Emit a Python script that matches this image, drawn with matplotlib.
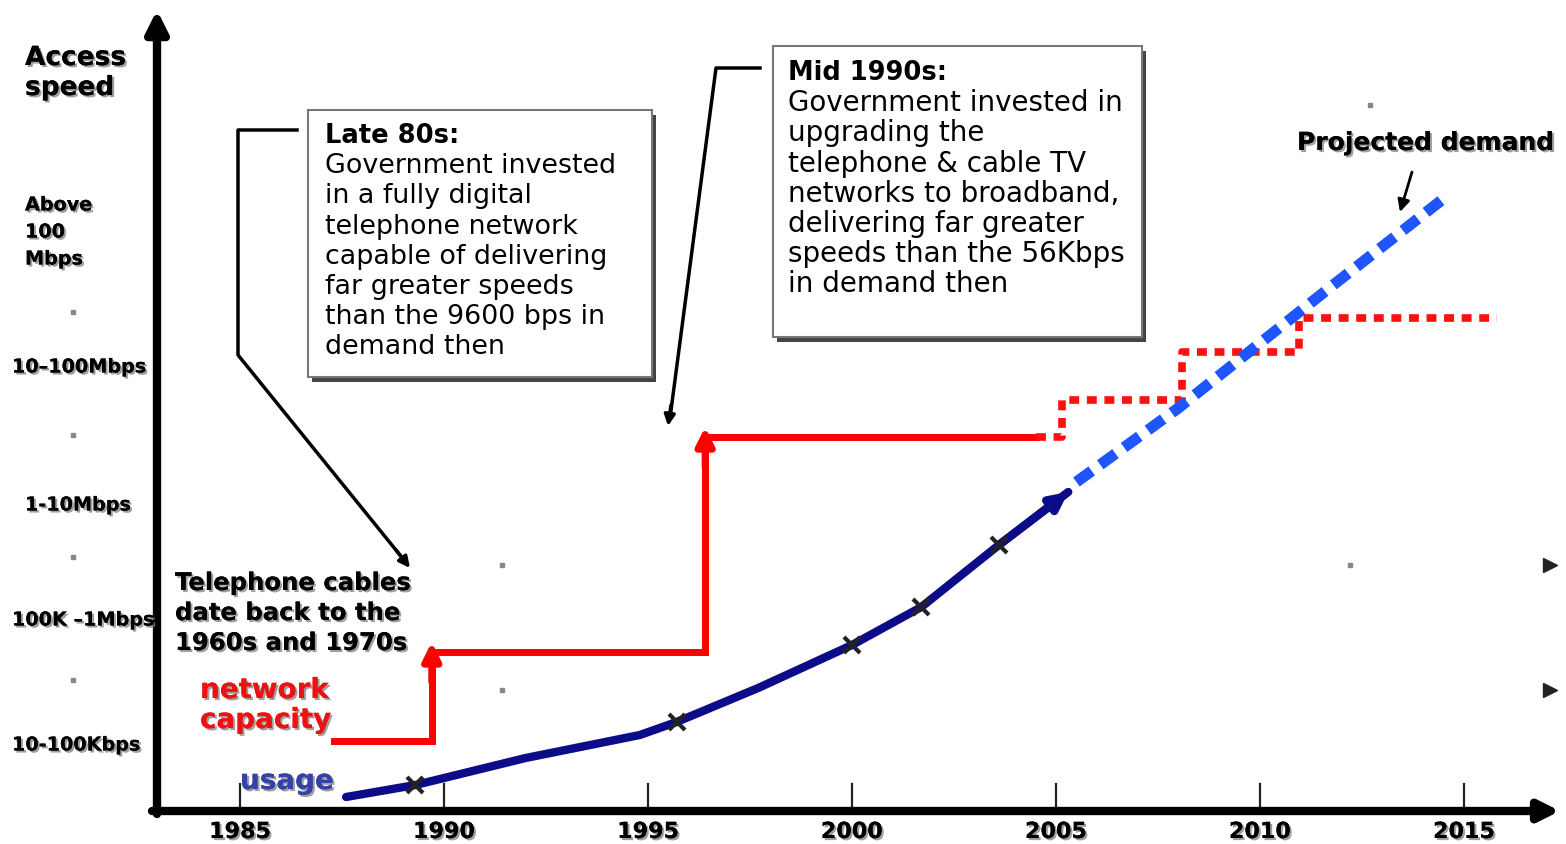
# -*- coding: utf-8 -*-

import matplotlib
matplotlib.use("Agg")
import matplotlib.pyplot as plt
import matplotlib.patheffects as pe
from matplotlib.patches import Rectangle

# --- chart data (years on x, "access speed level" on y, 0 = axis) ---
tick_years = [1985, 1990, 1995, 2000, 2005, 2010, 2015]

level_values = [576, 441, 303, 188, 63]
level_labels = ["Above\n100\nMbps", "10\u2013100Mbps", "1-10Mbps", "100K \u20131Mbps", "10-100Kbps"]

usage_year = [1987.6, 1989.3, 1992.0, 1994.8, 1995.7, 1997.7, 2000.0, 2001.7, 2003.6, 2005.3]
usage_level = [11, 23, 50, 73, 86, 120, 163, 201, 263, 316]
usage_marks = [1, 4, 6, 7, 8]  # points marked with a small x

projected_year = [2005.5, 2008.0, 2011.7, 2014.55]
projected_level = [326, 400, 520, 611]

capacity_year = [1987.3, 1989.7, 1989.7, 1996.4, 1996.4, 2004.5]
capacity_level = [67, 67, 156, 156, 371, 371]

planned_year = [2004.5, 2005.15, 2005.15, 2008.1, 2008.1, 2010.95, 2010.95, 2015.8]
planned_level = [371, 371, 408, 408, 456, 456, 490, 490]

box1_title = "Late 80s:"
box1_lines = ["Government invested", "in a fully digital", "telephone network",
              "capable of delivering", "far greater speeds", "than the 9600 bps in",
              "demand then"]
box2_title = "Mid 1990s:"
box2_lines = ["Government invested in", "upgrading the", "telephone & cable TV",
              "networks to broadband,", "delivering far greater",
              "speeds than the 56Kbps", "in demand then"]

W, H = 1566, 844
PX_PER_YEAR = 40.8


def P(px, py):
    """pixel position of the picture -> data coords"""
    return 1985 + (px - 240) / PX_PER_YEAR, 808 - py


shadow = [pe.withSimplePatchShadow(offset=(1.5, -1.5), shadow_rgbFace="#777777", alpha=0.7),
          pe.Normal()]

fig = plt.figure(figsize=(W / 100, H / 100), dpi=100)
ax = fig.add_axes([0, 0, 1, 1])
ax.set_xlim(P(0, 0)[0], P(W, 0)[0])
ax.set_ylim(808 - H, 808)
ax.axis("off")

# axes with arrow heads
ax.annotate("", xy=P(157, 10), xytext=P(157, 814),
            arrowprops=dict(arrowstyle="-|>", color="black", lw=6, mutation_scale=32,
                            shrinkA=0, shrinkB=0))
ax.annotate("", xy=P(1560, 811), xytext=P(152, 811),
            arrowprops=dict(arrowstyle="-|>", color="black", lw=6, mutation_scale=30,
                            shrinkA=0, shrinkB=0))

# x ticks and labels
for yr in tick_years:
    ax.plot([yr, yr], [0, 24], color="#222222", lw=1.6, zorder=2)
    ax.text(yr, P(0, 832)[1], str(yr), ha="center", va="center", fontsize=16,
            fontweight="bold", path_effects=shadow)

# y level labels
ax.text(*P(25, 58), "Access", ha="left", va="center", fontsize=19, fontweight="bold",
        path_effects=shadow)
ax.text(*P(25, 88), "speed", ha="left", va="center", fontsize=19, fontweight="bold",
        path_effects=shadow)
label_left = [25, 12, 25, 12, 12]
for lvl, lab, lx in zip(level_values, level_labels, label_left):
    parts = lab.split("\n")
    for i, part in enumerate(parts):
        yy = lvl + (len(parts) - 1) * 13.5 - i * 27
        ax.text(P(lx, 0)[0], yy, part, ha="left", va="center", fontsize=13.8,
                fontweight="bold", path_effects=shadow)

# faint grid dots left over in the picture
for dx, dy in [(73, 312), (73, 435), (73, 557), (73, 680), (502, 565), (502, 690),
               (1350, 565), (1370, 105)]:
    ax.plot(*P(dx, dy), marker="s", ms=3.5, color="#888888", zorder=1)
for dx, dy in [(1550, 565), (1550, 690)]:
    ax.plot(*P(dx, dy), marker=">", ms=10, color="#222222", zorder=1)

# network capacity (solid) and planned (dotted)
ax.plot(capacity_year, capacity_level, color="#ff0000", lw=5, solid_joinstyle="miter",
        zorder=4)
for i in (2, 4):
    ax.annotate("", xy=(capacity_year[i], capacity_level[i] + 10),
                xytext=(capacity_year[i], capacity_level[i] - 30),
                arrowprops=dict(arrowstyle="-|>", color="#ff0000", lw=5,
                                mutation_scale=26, shrinkA=0, shrinkB=0), zorder=4)
ax.plot(planned_year, planned_level, color="#ff1010", lw=5.5, dashes=(1.3, 1.0),
        dash_capstyle="butt", zorder=4)

# usage (navy) and projected demand (blue dashed)
ax.plot(usage_year, usage_level, color="#0c0c88", lw=6, solid_capstyle="round", zorder=5)
ax.annotate("", xy=(usage_year[-1], usage_level[-1]),
            xytext=(usage_year[-2], usage_level[-2]),
            arrowprops=dict(arrowstyle="-|>", color="#0c0c88", lw=6, mutation_scale=24,
                            shrinkA=0, shrinkB=0), zorder=5)
ax.plot([usage_year[i] for i in usage_marks], [usage_level[i] for i in usage_marks],
        ls="none", marker="x", ms=11, mew=3, color="#222222", zorder=6)
ax.plot(projected_year, projected_level, color="#1f55ff", lw=8, dashes=(1.7, 0.95),
        dash_capstyle="butt", zorder=5)

# text labels
for i, line in enumerate(["Telephone cables", "date back to the", "1960s and 1970s"]):
    ax.text(*P(175, 583 + 30 * i), line, ha="left", va="center", fontsize=17.5,
            fontweight="bold", path_effects=shadow)
for i, line in enumerate(["network", "capacity"]):
    ax.text(*P(200, 690 + 30 * i), line, ha="left", va="center", fontsize=20,
            fontweight="bold", color="#ee1111", path_effects=shadow)
ax.text(*P(240, 781), "usage", ha="left", va="center", fontsize=20, fontweight="bold",
        color="#3442a8", path_effects=shadow)
ax.text(*P(1297, 143), "Projected demand", ha="left", va="center", fontsize=18,
        fontweight="bold", path_effects=shadow)
ax.annotate("", xy=P(1400, 212), xytext=P(1412, 172),
            arrowprops=dict(arrowstyle="-|>", color="black", lw=2, mutation_scale=18,
                            shrinkA=0, shrinkB=0))


def draw_box(x0, y0, x1, y1, title, lines, tx, ty, size):
    bx0, by1 = P(x0, y0)
    bx1, by0 = P(x1, y1)
    sh = 4 / PX_PER_YEAR
    ax.add_patch(Rectangle((bx0 + sh, by0 - 5), bx1 - bx0, by1 - by0, facecolor="#444444",
                           edgecolor="none", zorder=7))
    ax.add_patch(Rectangle((bx0, by0), bx1 - bx0, by1 - by0, facecolor="white",
                           edgecolor="#777777", lw=1.5, zorder=8))
    ax.text(*P(tx, ty), title, ha="left", va="center", fontsize=18.5, fontweight="bold",
            zorder=9)
    for i, line in enumerate(lines):
        ax.text(*P(tx, ty + 30.2 * (i + 1)), line, ha="left", va="center", fontsize=size,
                zorder=9)


draw_box(308, 110, 652, 377, box1_title, box1_lines, 325, 136, 19.4)
draw_box(773, 46, 1142, 337, box2_title, box2_lines, 788, 73, 20)

# leader lines from the boxes
ax.plot(*zip(P(297, 130), P(238, 130), P(238, 355), P(404, 560)), color="black", lw=2.5,
        zorder=3)
ax.annotate("", xy=P(410, 568), xytext=P(396, 550),
            arrowprops=dict(arrowstyle="-|>", color="black", lw=2.5, mutation_scale=16,
                            shrinkA=0, shrinkB=0))
ax.plot(*zip(P(760, 68), P(716, 68), P(670, 418)), color="black", lw=2.5, zorder=3)
ax.annotate("", xy=P(668, 426), xytext=P(671, 405),
            arrowprops=dict(arrowstyle="-|>", color="black", lw=2.5, mutation_scale=16,
                            shrinkA=0, shrinkB=0))

fig.savefig("out.png", dpi=100, facecolor="white")
